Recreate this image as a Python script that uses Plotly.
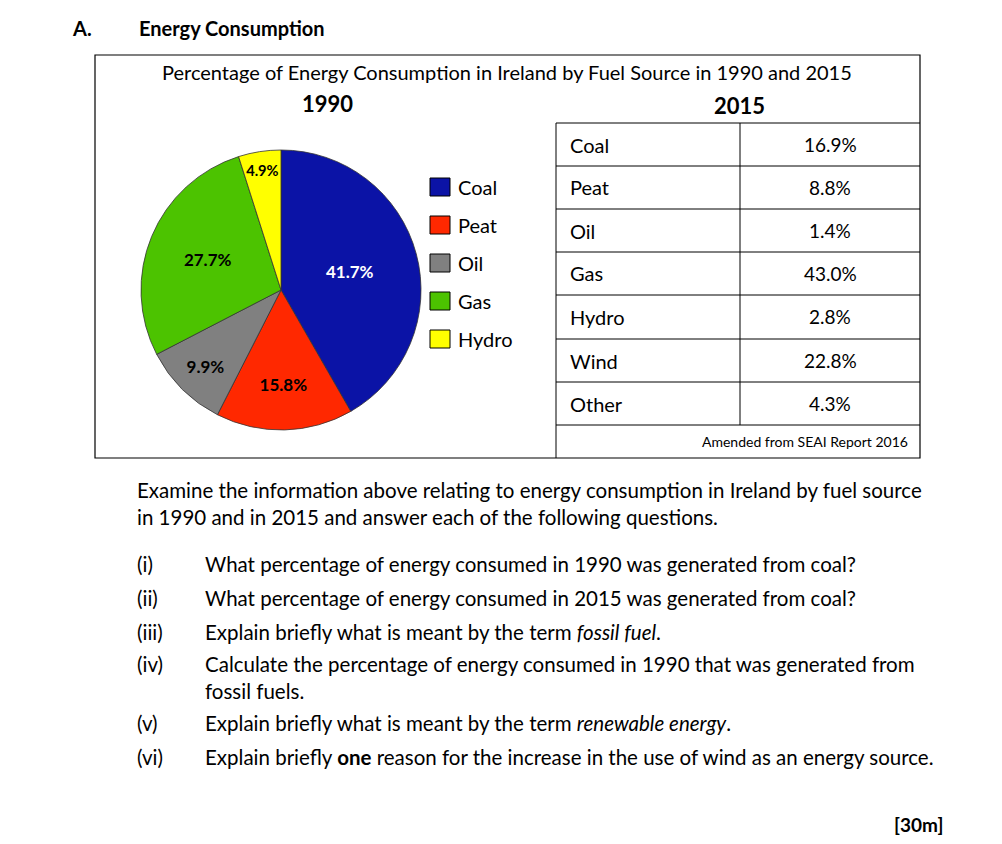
import plotly.graph_objects as go

W, H = 1002, 844
FONT = "Lato"
OFF = 8  # browser body margin

fuels_1990 = ["Coal", "Peat", "Oil", "Gas", "Hydro"]
values_1990 = [41.7, 15.8, 9.9, 27.7, 4.9]
colors_1990 = ["#0B13A6", "#FF2800", "#808080", "#4CC300", "#FFFF00"]
text_colors = ["white", "black", "black", "black", "black"]

fuels_2015 = ["Coal", "Peat", "Oil", "Gas", "Hydro", "Wind", "Other"]
values_2015 = ["16.9%", "8.8%", "1.4%", "43.0%", "2.8%", "22.8%", "4.3%"]

questions = [
    ("(i)", "What percentage of energy consumed in 1990 was generated from coal?"),
    ("(ii)", "What percentage of energy consumed in 2015 was generated from coal?"),
    ("(iii)", "Explain briefly what is meant by the term <i>fossil fuel</i>."),
    ("(iv)", "Calculate the percentage of energy consumed in 1990 that was generated from<br>fossil fuels."),
    ("(v)", "Explain briefly what is meant by the term <i>renewable energy</i>."),
    ("(vi)", "Explain briefly <b>one</b> reason for the increase in the use of wind as an energy source."),
]
question_y = [564, 598, 632, 664, 723, 757]


def px(x):
    return (x - OFF) / W


def py(y):
    return 1 - (y - OFF) / H


fig = go.Figure()
fig.add_trace(go.Pie(
    labels=fuels_1990, values=values_1990, sort=False, direction="clockwise",
    rotation=0, marker=dict(colors=colors_1990, line=dict(color="#333", width=0.8)),
    text=[f"<b>{v}%</b>" for v in values_1990], textinfo="text", textposition="inside",
    insidetextorientation="horizontal",
    textfont=dict(family=FONT, size=17, color=text_colors),
    domain=dict(x=[px(141), px(421)], y=[py(430), py(150)]),
    showlegend=False, hoverinfo="label+value",
))

shapes = []
ann = []


def text(x, y, s, size=21, anchor="left", **kw):
    ann.append(dict(x=px(x), y=py(y), xref="paper", yref="paper", text=s,
                    showarrow=False, xanchor=anchor, yanchor="middle",
                    font=dict(family=FONT, size=size, color="black"), **kw))


def line(x0, y0, x1, y1, w=1):
    shapes.append(dict(type="line", xref="paper", yref="paper", x0=px(x0), y0=py(y0),
                       x1=px(x1), y1=py(y1), line=dict(color="black", width=w)))


# outer box
shapes.append(dict(type="rect", xref="paper", yref="paper", x0=px(95), y0=py(458),
                   x1=px(920), y1=py(55), line=dict(color="black", width=1.2)))

# legend
for i, (f, c) in enumerate(zip(fuels_1990, colors_1990)):
    yc = 187 + i * 38
    shapes.append(dict(type="rect", xref="paper", yref="paper", x0=px(430), y0=py(yc + 9),
                       x1=px(450), y1=py(yc - 9), fillcolor=c, line=dict(color="black", width=1)))
    text(456, yc, f, 20)

# table
row_y = [123, 166, 209, 252, 295, 339, 382, 425]
for y in row_y:
    line(556, y, 920, y)
line(556, 123, 556, 458)
line(740, 123, 740, 425)
for i, (f, v) in enumerate(zip(fuels_2015, values_2015)):
    yc = (row_y[i] + row_y[i + 1]) / 2
    text(568, yc, f, 20)
    text(830, yc, v, 19, anchor="center")
text(910, 441, "Amended from SEAI Report 2016", 14, anchor="right")

# titles
text(70, 28, "<b>A.</b>", 20)
text(137, 28, "<b>Energy Consumption</b>", 20)
text(507, 72, "Percentage of Energy Consumption in Ireland by Fuel Source in 1990 and 2015", 20, anchor="center")
text(327, 104, "<b>1990</b>", 22, anchor="center")
text(739, 105, "<b>2015</b>", 22, anchor="center")

text(135, 504, "Examine the information above relating to energy consumption in Ireland by fuel source<br>in 1990 and in 2015 and answer each of the following questions.", 20.5, align="left")
for (n, q), y in zip(questions, question_y):
    text(135, y, n, 20.5)
    yy = y + 13 if "<br>" in q else y
    text(203, yy, q, 20.5, align="left")
text(945, 824, "<b>[30m]</b>", 19, anchor="right")

fig.update_layout(width=W, height=H, margin=dict(l=0, r=0, t=0, b=0),
                  paper_bgcolor="white", plot_bgcolor="white",
                  shapes=shapes, annotations=ann)
fig.write_html("out.html")
